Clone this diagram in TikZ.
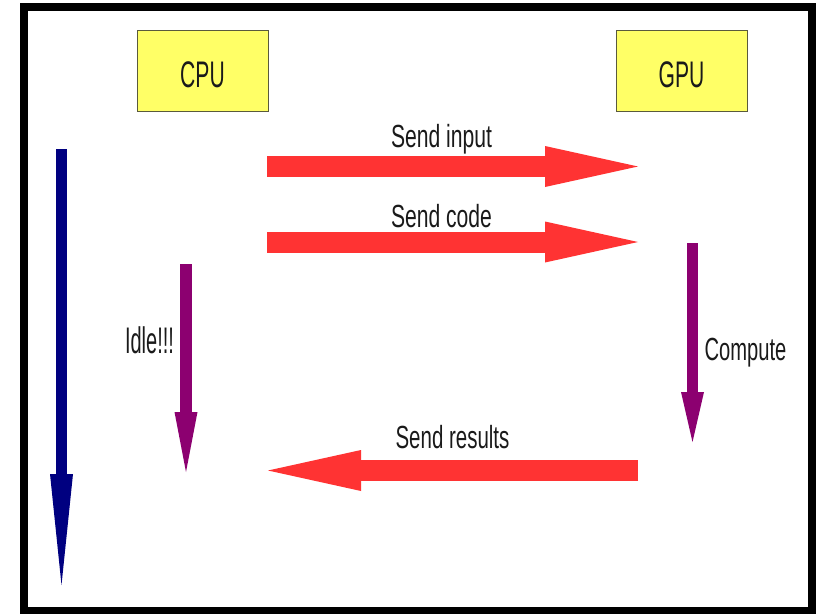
\documentclass[tikz,border=0pt]{standalone}
\usepackage{fontspec}
\setmainfont{Liberation Sans}
\usetikzlibrary{arrows.meta}
\definecolor{boxfill}{HTML}{FFFF66}
\definecolor{boxline}{HTML}{5A5A3C}
\definecolor{flowred}{HTML}{FF3333}
\definecolor{timeblue}{HTML}{000080}
\definecolor{busy}{HTML}{8C0070}
\definecolor{ink}{HTML}{1A1A1A}
% horizontally condensed text
\newcommand{\narrow}[2]{\scalebox{#1}[1]{#2}}

\begin{document}
\begin{tikzpicture}[x=1pt,y=-1pt,
  unit/.style={draw=boxline, line width=1pt, fill=boxfill,
    minimum width=131pt, minimum height=81pt, inner sep=0pt,
    text=ink, text height=33pt, text depth=0pt,
    font=\fontsize{37}{42}\selectfont},
  lbl/.style={anchor=base, inner sep=0pt, text=ink,
    font=\fontsize{32}{38}\selectfont},
  transfer/.style={flowred, line width=21pt,
    -{Triangle[length=93pt, width=41pt, line width=0pt]}},
  timeline/.style={timeblue, line width=11pt,
    -{Triangle[length=111pt, width=23pt, line width=0pt]}},
  busyline/.style={busy, line width=11.5pt,
    -{Triangle[length=#1, width=23pt, line width=0pt]}},
]
\useasboundingbox (0,0) rectangle (816,613);
\fill[white] (0,0) rectangle (816,613);

% outer frame
\draw[line width=8pt] (24,7) rectangle (812,611);

% the two processors
\node[unit] (cpu) at (202.5,70.5) {\narrow{0.57}{CPU}};
\node[unit] (gpu) at (681.5,70.5) {\narrow{0.57}{GPU}};

% end points of the arrows
\coordinate (inS) at (267,166.5);  \coordinate (inE) at (638,166.5);
\coordinate (cdS) at (267,242);    \coordinate (cdE) at (638,242);
\coordinate (rsS) at (638,470.5);  \coordinate (rsE) at (268,470.5);
\coordinate (tS)  at (61.5,149);   \coordinate (tE)  at (61.5,585);
\coordinate (idS) at (186,264);    \coordinate (idE) at (186,472);
\coordinate (cpS) at (692.5,243);  \coordinate (cpE) at (692.5,442);

% transfers between host and device
\draw[transfer] (inS) -- (inE);
\draw[transfer] (cdS) -- (cdE);
\draw[transfer] (rsS) -- (rsE);

% time axis and busy periods
\draw[timeline] (tS) -- (tE);
\draw[busyline=60pt] (idS) -- (idE);
\draw[busyline=50pt] (cpS) -- (cpE);

% labels
\node[lbl] (lin)  at (441.5,147) {\narrow{0.66}{Send input}};
\node[lbl] (lcd)  at (441.5,227) {\narrow{0.66}{Send code}};
\node[lbl] (lrs)  at (452.5,448) {\narrow{0.64}{Send results}};
\node[lbl] (lcp)  at (745.5,360) {\narrow{0.63}{Compute}};
\node[lbl, font=\fontsize{37}{42}\selectfont] (lid) at (149.5,353) {\narrow{0.54}{Idle!!!}};
\end{tikzpicture}
\end{document}
